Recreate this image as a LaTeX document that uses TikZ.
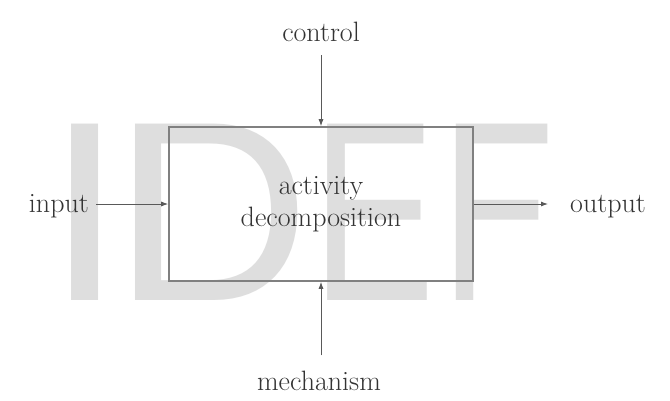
\documentclass[tikz,border=0pt]{standalone}
\usepackage{fontspec}
\newfontfamily\wmfont{TeX Gyre Heros}
\usetikzlibrary{arrows.meta}
\definecolor{wm}{gray}{0.87}
\definecolor{boxline}{gray}{0.5}
\definecolor{arrline}{gray}{0.35}
\definecolor{txt}{gray}{0.2}
\tikzset{
  lbl/.style={inner sep=0pt, text=txt, font=\fontsize{28}{32}\selectfont},
  actbox/.style={draw=boxline, line width=1.6pt, minimum width=304pt, minimum height=154pt,
    inner sep=0pt, align=center, text=txt, font=\fontsize{28}{32}\selectfont},
  arr/.style={draw=arrline, line width=0.9pt, -{Latex[length=7pt,width=5pt]}}
}
\begin{document}
\begin{tikzpicture}[x=1pt,y=-1pt]
\useasboundingbox[fill=white] (0,0) rectangle (670,400);
% watermark
\node[anchor=base west, inner sep=0pt, text=wm, font=\wmfont\fontsize{242}{242}\selectfont] (wmark) at (42.7,300)
  {\scalebox{1.2}[1]{I}\kern-13.1pt\scalebox{1.16}[1]{D}\kern-2.4pt\scalebox{0.787}[1]{E}\kern1.3pt\scalebox{0.773}[1]{F}};
% activity box
\node[actbox] (box) at (321,204) {activity\\decomposition};
% labels
\node[lbl, anchor=base east] (input) at (89,212) {input};
\node[lbl, anchor=base west] (output) at (570,212) {output};
\node[lbl, anchor=base] (control) at (321,41) {control};
\node[lbl, anchor=base] (mech) at (319,390) {mechanism};
% arrows
\draw[arr, shorten <=7pt] (box.west -| input.east) -- (box.west);
\draw[arr, shorten >=22pt] (box.east) -- (box.east -| output.west);
\draw[arr, shorten <=14pt] (box.north |- control.south) -- (box.north);
\draw[arr, shorten <=15pt] (box.south |- mech.north) -- (box.south);
\end{tikzpicture}
\end{document}
